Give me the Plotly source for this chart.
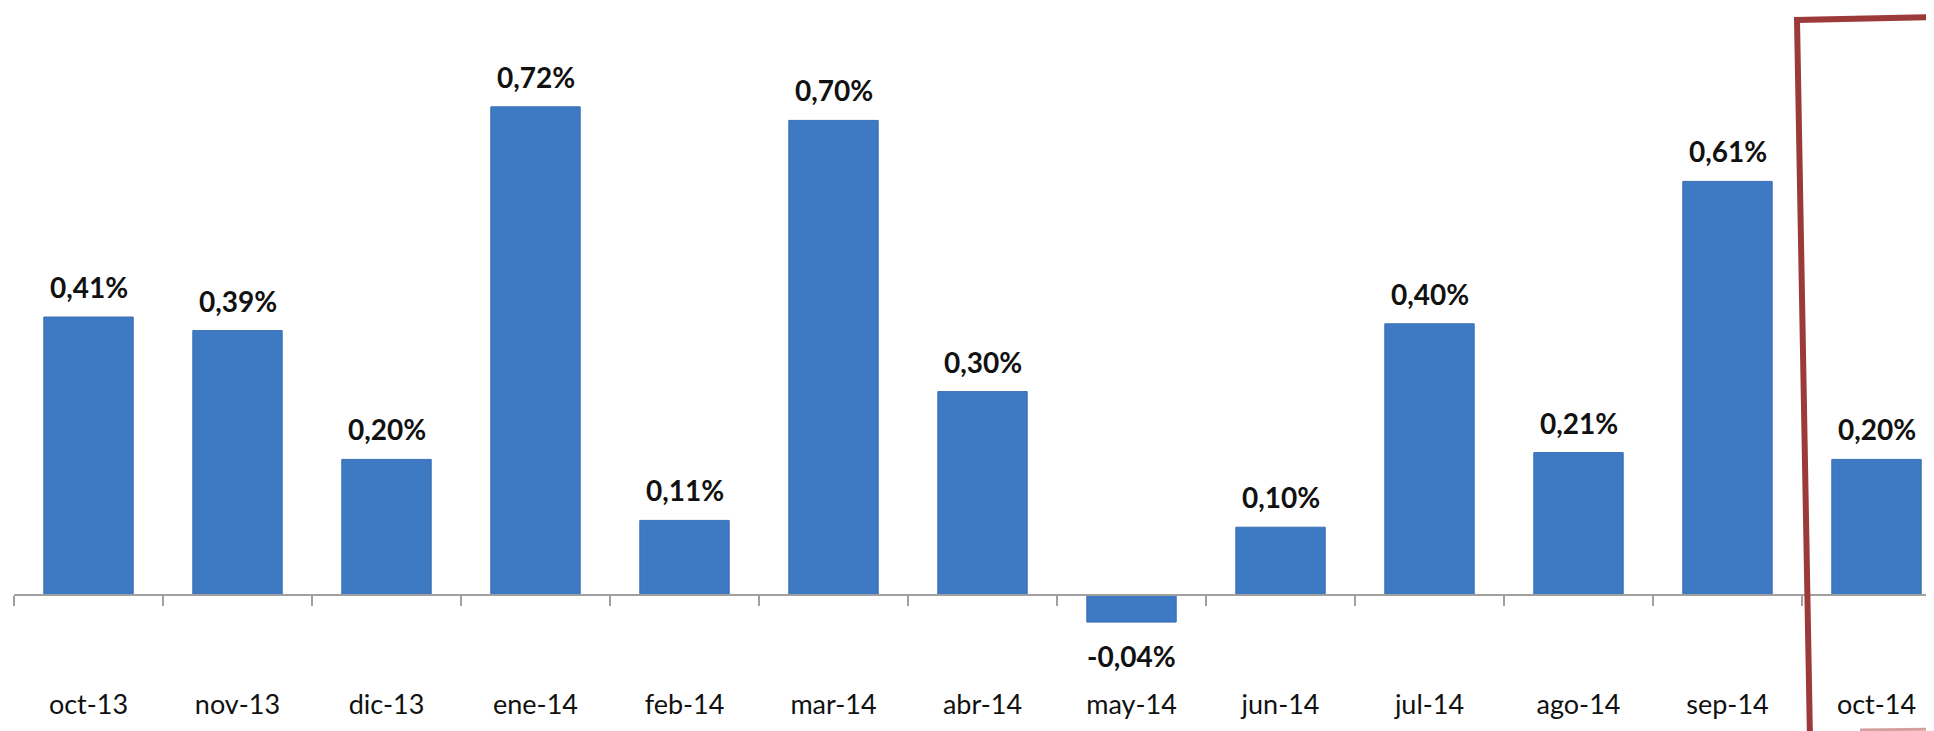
import plotly.graph_objects as go

meses = ["oct-13", "nov-13", "dic-13", "ene-14", "feb-14", "mar-14", "abr-14",
         "may-14", "jun-14", "jul-14", "ago-14", "sep-14", "oct-14"]
variacion = [0.41, 0.39, 0.20, 0.72, 0.11, 0.70, 0.30, -0.04, 0.10, 0.40, 0.21, 0.61, 0.20]

etiquetas = [("%.2f" % v).replace(".", ",") + "%" for v in variacion]

# the page body has an 8px margin, so the figure is drawn 8px in from the corner
OFF = 8
W, H = 1934 - OFF, 731 - OFF
ml, mb = 14 - OFF, 31
pw, ph = W - ml, H - mb
ax_px = 595 - OFF    # zero line row, in figure pixels
px_por_pct = 678.0   # pixels per 1 %
paso = 149.0         # pixels per category

fig = go.Figure()
fig.add_trace(go.Bar(
    x=meses, y=variacion,
    marker=dict(color="#3e79c4", line=dict(color="#3a6fb5", width=1)),
    width=0.6,
))

# etiquetas de valor
for m, v, t in zip(meses, variacion, etiquetas):
    fig.add_annotation(
        x=m, y=v, text="<b>" + t + "</b>", showarrow=False,
        yanchor="bottom" if v >= 0 else "top",
        yshift=11 if v >= 0 else -15,
        font=dict(family="Lato", size=28, color="#111111"),
    )

y_top = ax_px / px_por_pct
y_bot = -(ph - ax_px) / px_por_pct

fig.update_layout(
    width=W, height=H,
    margin=dict(l=ml, r=0, t=0, b=mb),
    plot_bgcolor="white", paper_bgcolor="white",
    showlegend=False,
    xaxis=dict(
        range=[-0.5, pw / paso - 0.5],
        anchor="free", position=(ph - ax_px) / ph,
        showline=True, linecolor="#a0a0a0", linewidth=1.5,
        ticks="outside", ticklen=10, tickcolor="#a0a0a0", tickwidth=1.5,
        tickson="boundaries", showgrid=False,
        ticklabelstandoff=86,
        tickfont=dict(family="Lato", size=27, color="#111111"),
    ),
    yaxis=dict(range=[y_bot, y_top], visible=False, showgrid=False, zeroline=False),
)

# recuadro rojo dibujado a mano sobre el último mes (coordenadas de página)
def p(px, py):
    return "%.5f %.5f" % ((px - OFF - ml) / pw, (ph - (py - OFF)) / ph)

fig.add_shape(
    type="path", xref="paper", yref="paper",
    path="M " + p(1810, 740) + " L " + p(1797, 20) + " L " + p(1940, 17),
    line=dict(color="#9b3a38", width=6),
)
fig.add_shape(
    type="path", xref="paper", yref="paper",
    path="M " + p(1860, 730) + " L " + p(1940, 729),
    line=dict(color="#d4a09e", width=3),
)

fig.write_html("out.html")
